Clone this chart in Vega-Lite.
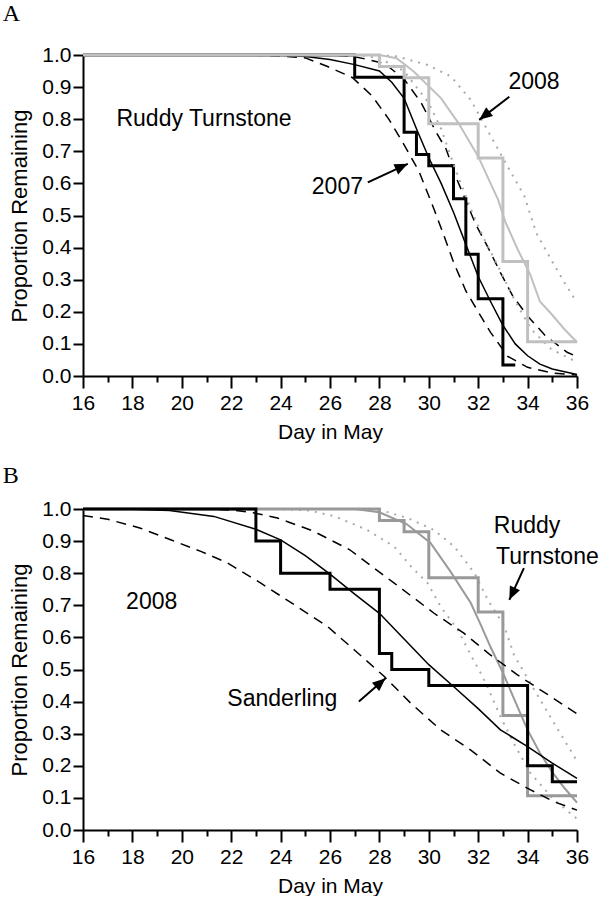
{
  "$schema": "https://vega.github.io/schema/vega-lite/v6.json",
  "padding": {"left": 2, "top": 2, "right": 5, "bottom": 0},
  "background": "white",
  "spacing": 22,
  "config": {
    "view": {"stroke": null},
    "font": "Liberation Sans",
    "axis": {"domainColor": "black", "domainWidth": 2, "tickColor": "black", "tickWidth": 2, "labelColor": "black", "titleColor": "black", "labelFontSize": 21, "titleFontSize": 22, "titleFontWeight": "normal", "grid": false, "labelFont": "Liberation Sans", "titleFont": "Liberation Sans"},
    "title": {"font": "Liberation Serif", "fontSize": 24, "fontWeight": "normal", "anchor": "start", "frame": "bounds", "color": "black", "offset": 18, "dx": -6}
  },
  "datasets": {
    "curves": [
      {"s": "A07step", "x": 16, "y": 1.0}, {"s": "A07step", "x": 27, "y": 0.931}, {"s": "A07step", "x": 29, "y": 0.759}, {"s": "A07step", "x": 29.5, "y": 0.69}, {"s": "A07step", "x": 30, "y": 0.655}, {"s": "A07step", "x": 31, "y": 0.552}, {"s": "A07step", "x": 31.5, "y": 0.379}, {"s": "A07step", "x": 32, "y": 0.241}, {"s": "A07step", "x": 33, "y": 0.034}, {"s": "A07step", "x": 33.5, "y": 0.034},
      {"s": "A07fit", "x": 16, "y": 1.0}, {"s": "A07fit", "x": 22, "y": 1.0}, {"s": "A07fit", "x": 24, "y": 0.999}, {"s": "A07fit", "x": 25, "y": 0.995}, {"s": "A07fit", "x": 26, "y": 0.986}, {"s": "A07fit", "x": 27, "y": 0.97}, {"s": "A07fit", "x": 28, "y": 0.95}, {"s": "A07fit", "x": 28.5, "y": 0.915}, {"s": "A07fit", "x": 29, "y": 0.865}, {"s": "A07fit", "x": 29.5, "y": 0.77}, {"s": "A07fit", "x": 30, "y": 0.68}, {"s": "A07fit", "x": 30.5, "y": 0.6}, {"s": "A07fit", "x": 31, "y": 0.51}, {"s": "A07fit", "x": 31.5, "y": 0.41}, {"s": "A07fit", "x": 32, "y": 0.31}, {"s": "A07fit", "x": 32.5, "y": 0.232}, {"s": "A07fit", "x": 33, "y": 0.158}, {"s": "A07fit", "x": 33.5, "y": 0.1}, {"s": "A07fit", "x": 34, "y": 0.063}, {"s": "A07fit", "x": 34.5, "y": 0.037}, {"s": "A07fit", "x": 35, "y": 0.022}, {"s": "A07fit", "x": 36, "y": 0.005},
      {"s": "A07lo", "x": 16, "y": 1.0}, {"s": "A07lo", "x": 23, "y": 0.999}, {"s": "A07lo", "x": 24, "y": 0.997}, {"s": "A07lo", "x": 25, "y": 0.991}, {"s": "A07lo", "x": 25.9, "y": 0.964}, {"s": "A07lo", "x": 26.9, "y": 0.93}, {"s": "A07lo", "x": 27.7, "y": 0.873}, {"s": "A07lo", "x": 28.4, "y": 0.798}, {"s": "A07lo", "x": 29, "y": 0.72}, {"s": "A07lo", "x": 29.6, "y": 0.638}, {"s": "A07lo", "x": 30.2, "y": 0.522}, {"s": "A07lo", "x": 30.6, "y": 0.44}, {"s": "A07lo", "x": 31, "y": 0.355}, {"s": "A07lo", "x": 31.5, "y": 0.265}, {"s": "A07lo", "x": 32, "y": 0.2}, {"s": "A07lo", "x": 32.5, "y": 0.136}, {"s": "A07lo", "x": 33.2, "y": 0.061}, {"s": "A07lo", "x": 34, "y": 0.027}, {"s": "A07lo", "x": 35, "y": 0.009}, {"s": "A07lo", "x": 36, "y": 0.003},
      {"s": "A07hi", "x": 16, "y": 1.0}, {"s": "A07hi", "x": 26, "y": 1.0}, {"s": "A07hi", "x": 27, "y": 0.995}, {"s": "A07hi", "x": 28.2, "y": 0.974}, {"s": "A07hi", "x": 29, "y": 0.925}, {"s": "A07hi", "x": 29.7, "y": 0.85}, {"s": "A07hi", "x": 30.3, "y": 0.759}, {"s": "A07hi", "x": 30.7, "y": 0.707}, {"s": "A07hi", "x": 31.1, "y": 0.62}, {"s": "A07hi", "x": 31.9, "y": 0.472}, {"s": "A07hi", "x": 32.4, "y": 0.4}, {"s": "A07hi", "x": 32.9, "y": 0.322}, {"s": "A07hi", "x": 33.4, "y": 0.249}, {"s": "A07hi", "x": 34, "y": 0.187}, {"s": "A07hi", "x": 34.7, "y": 0.127}, {"s": "A07hi", "x": 35.6, "y": 0.074}, {"s": "A07hi", "x": 36, "y": 0.06},
      {"s": "A08step", "x": 16, "y": 1.0}, {"s": "A08step", "x": 28, "y": 0.964}, {"s": "A08step", "x": 29, "y": 0.929}, {"s": "A08step", "x": 30, "y": 0.786}, {"s": "A08step", "x": 32, "y": 0.679}, {"s": "A08step", "x": 33, "y": 0.357}, {"s": "A08step", "x": 34, "y": 0.107}, {"s": "A08step", "x": 36, "y": 0.107},
      {"s": "A08fit", "x": 16, "y": 1.0}, {"s": "A08fit", "x": 28, "y": 1.0}, {"s": "A08fit", "x": 28.7, "y": 0.99}, {"s": "A08fit", "x": 29.4, "y": 0.948}, {"s": "A08fit", "x": 30.5, "y": 0.865}, {"s": "A08fit", "x": 31.2, "y": 0.788}, {"s": "A08fit", "x": 32, "y": 0.684}, {"s": "A08fit", "x": 32.5, "y": 0.6}, {"s": "A08fit", "x": 32.8, "y": 0.55}, {"s": "A08fit", "x": 33.1, "y": 0.48}, {"s": "A08fit", "x": 33.6, "y": 0.394}, {"s": "A08fit", "x": 34.1, "y": 0.317}, {"s": "A08fit", "x": 34.5, "y": 0.232}, {"s": "A08fit", "x": 35, "y": 0.19}, {"s": "A08fit", "x": 35.5, "y": 0.145}, {"s": "A08fit", "x": 36, "y": 0.105},
      {"s": "A08lo", "x": 16, "y": 1.0}, {"s": "A08lo", "x": 27, "y": 1.0}, {"s": "A08lo", "x": 28, "y": 0.99}, {"s": "A08lo", "x": 29, "y": 0.95}, {"s": "A08lo", "x": 30, "y": 0.85}, {"s": "A08lo", "x": 30.5, "y": 0.77}, {"s": "A08lo", "x": 31, "y": 0.66}, {"s": "A08lo", "x": 31.7, "y": 0.52}, {"s": "A08lo", "x": 32.25, "y": 0.425}, {"s": "A08lo", "x": 32.8, "y": 0.343}, {"s": "A08lo", "x": 33.46, "y": 0.239}, {"s": "A08lo", "x": 34.14, "y": 0.146}, {"s": "A08lo", "x": 34.95, "y": 0.084}, {"s": "A08lo", "x": 36, "y": 0.043},
      {"s": "A08hi", "x": 16, "y": 1.0}, {"s": "A08hi", "x": 28, "y": 1.0}, {"s": "A08hi", "x": 28.74, "y": 0.995}, {"s": "A08hi", "x": 29.95, "y": 0.969}, {"s": "A08hi", "x": 30.9, "y": 0.933}, {"s": "A08hi", "x": 31.7, "y": 0.86}, {"s": "A08hi", "x": 32.52, "y": 0.746}, {"s": "A08hi", "x": 33.19, "y": 0.653}, {"s": "A08hi", "x": 33.87, "y": 0.56}, {"s": "A08hi", "x": 34.35, "y": 0.446}, {"s": "A08hi", "x": 34.95, "y": 0.363}, {"s": "A08hi", "x": 35.49, "y": 0.291}, {"s": "A08hi", "x": 36, "y": 0.229},
      {"s": "Bsstep", "x": 16, "y": 1.0}, {"s": "Bsstep", "x": 23, "y": 0.9}, {"s": "Bsstep", "x": 24, "y": 0.8}, {"s": "Bsstep", "x": 26, "y": 0.75}, {"s": "Bsstep", "x": 28, "y": 0.55}, {"s": "Bsstep", "x": 28.5, "y": 0.5}, {"s": "Bsstep", "x": 30, "y": 0.45}, {"s": "Bsstep", "x": 34, "y": 0.2}, {"s": "Bsstep", "x": 35, "y": 0.15}, {"s": "Bsstep", "x": 36, "y": 0.15},
      {"s": "Bsfit", "x": 16, "y": 1.0}, {"s": "Bsfit", "x": 18, "y": 0.999}, {"s": "Bsfit", "x": 19.5, "y": 0.995}, {"s": "Bsfit", "x": 21.3, "y": 0.977}, {"s": "Bsfit", "x": 23, "y": 0.937}, {"s": "Bsfit", "x": 24, "y": 0.904}, {"s": "Bsfit", "x": 25, "y": 0.855}, {"s": "Bsfit", "x": 26, "y": 0.797}, {"s": "Bsfit", "x": 27, "y": 0.735}, {"s": "Bsfit", "x": 28, "y": 0.675}, {"s": "Bsfit", "x": 29, "y": 0.595}, {"s": "Bsfit", "x": 30, "y": 0.515}, {"s": "Bsfit", "x": 31, "y": 0.447}, {"s": "Bsfit", "x": 32, "y": 0.378}, {"s": "Bsfit", "x": 32.9, "y": 0.312}, {"s": "Bsfit", "x": 34, "y": 0.26}, {"s": "Bsfit", "x": 35, "y": 0.208}, {"s": "Bsfit", "x": 36, "y": 0.161},
      {"s": "Bslo", "x": 16, "y": 0.98}, {"s": "Bslo", "x": 17, "y": 0.968}, {"s": "Bslo", "x": 18.3, "y": 0.941}, {"s": "Bslo", "x": 19.55, "y": 0.904}, {"s": "Bslo", "x": 20.77, "y": 0.868}, {"s": "Bslo", "x": 21.85, "y": 0.832}, {"s": "Bslo", "x": 23.2, "y": 0.769}, {"s": "Bslo", "x": 24.55, "y": 0.702}, {"s": "Bslo", "x": 25.9, "y": 0.634}, {"s": "Bslo", "x": 27, "y": 0.56}, {"s": "Bslo", "x": 28.2, "y": 0.478}, {"s": "Bslo", "x": 29.27, "y": 0.395}, {"s": "Bslo", "x": 30.48, "y": 0.312}, {"s": "Bslo", "x": 31.7, "y": 0.249}, {"s": "Bslo", "x": 32.9, "y": 0.177}, {"s": "Bslo", "x": 34.12, "y": 0.125}, {"s": "Bslo", "x": 35.07, "y": 0.088}, {"s": "Bslo", "x": 36, "y": 0.062},
      {"s": "Bshi", "x": 16, "y": 1.0}, {"s": "Bshi", "x": 21, "y": 1.0}, {"s": "Bshi", "x": 22, "y": 0.997}, {"s": "Bshi", "x": 22.9, "y": 0.988}, {"s": "Bshi", "x": 23.87, "y": 0.972}, {"s": "Bshi", "x": 25.3, "y": 0.932}, {"s": "Bshi", "x": 26.8, "y": 0.873}, {"s": "Bshi", "x": 28.6, "y": 0.769}, {"s": "Bshi", "x": 30.2, "y": 0.676}, {"s": "Bshi", "x": 31.42, "y": 0.613}, {"s": "Bshi", "x": 32.45, "y": 0.548}, {"s": "Bshi", "x": 33.59, "y": 0.483}, {"s": "Bshi", "x": 34.93, "y": 0.416}, {"s": "Bshi", "x": 36, "y": 0.362},
      {"s": "Brstep", "x": 16, "y": 1.0}, {"s": "Brstep", "x": 28, "y": 0.964}, {"s": "Brstep", "x": 29, "y": 0.929}, {"s": "Brstep", "x": 30, "y": 0.786}, {"s": "Brstep", "x": 32, "y": 0.679}, {"s": "Brstep", "x": 33, "y": 0.357}, {"s": "Brstep", "x": 34, "y": 0.107}, {"s": "Brstep", "x": 36, "y": 0.107},
      {"s": "Brfit", "x": 16, "y": 1.0}, {"s": "Brfit", "x": 27, "y": 1.0}, {"s": "Brfit", "x": 28, "y": 0.99}, {"s": "Brfit", "x": 29.1, "y": 0.953}, {"s": "Brfit", "x": 30.07, "y": 0.894}, {"s": "Brfit", "x": 30.88, "y": 0.805}, {"s": "Brfit", "x": 31.7, "y": 0.707}, {"s": "Brfit", "x": 32.1, "y": 0.64}, {"s": "Brfit", "x": 32.5, "y": 0.57}, {"s": "Brfit", "x": 33, "y": 0.49}, {"s": "Brfit", "x": 33.5, "y": 0.4}, {"s": "Brfit", "x": 34, "y": 0.312}, {"s": "Brfit", "x": 34.5, "y": 0.24}, {"s": "Brfit", "x": 35, "y": 0.18}, {"s": "Brfit", "x": 35.5, "y": 0.13}, {"s": "Brfit", "x": 36, "y": 0.085},
      {"s": "Brlo", "x": 16, "y": 1.0}, {"s": "Brlo", "x": 24, "y": 1.0}, {"s": "Brlo", "x": 25.2, "y": 0.995}, {"s": "Brlo", "x": 26.2, "y": 0.977}, {"s": "Brlo", "x": 27.5, "y": 0.935}, {"s": "Brlo", "x": 28.6, "y": 0.883}, {"s": "Brlo", "x": 29.28, "y": 0.821}, {"s": "Brlo", "x": 29.95, "y": 0.769}, {"s": "Brlo", "x": 30.48, "y": 0.696}, {"s": "Brlo", "x": 31.17, "y": 0.624}, {"s": "Brlo", "x": 31.7, "y": 0.545}, {"s": "Brlo", "x": 32.1, "y": 0.489}, {"s": "Brlo", "x": 32.37, "y": 0.447}, {"s": "Brlo", "x": 32.9, "y": 0.353}, {"s": "Brlo", "x": 33.44, "y": 0.27}, {"s": "Brlo", "x": 34.12, "y": 0.177}, {"s": "Brlo", "x": 35.07, "y": 0.094}, {"s": "Brlo", "x": 36, "y": 0.035},
      {"s": "Brhi", "x": 16, "y": 1.0}, {"s": "Brhi", "x": 27.9, "y": 1.0}, {"s": "Brhi", "x": 29.14, "y": 0.972}, {"s": "Brhi", "x": 30.2, "y": 0.935}, {"s": "Brhi", "x": 31.03, "y": 0.883}, {"s": "Brhi", "x": 31.85, "y": 0.8}, {"s": "Brhi", "x": 32.39, "y": 0.717}, {"s": "Brhi", "x": 33.06, "y": 0.634}, {"s": "Brhi", "x": 33.45, "y": 0.545}, {"s": "Brhi", "x": 34.27, "y": 0.437}, {"s": "Brhi", "x": 35.07, "y": 0.333}, {"s": "Brhi", "x": 36, "y": 0.215}
    ],
    "notes": [
      {"p": "A", "label": "Ruddy Turnstone", "x": 20.9, "y": 0.8},
      {"p": "A", "label": "2007", "x": 26.3, "y": 0.59},
      {"p": "A", "label": "2008", "x": 34.26, "y": 0.916},
      {"p": "B", "label": "2008", "x": 18.78, "y": 0.71},
      {"p": "B", "label": "Sanderling", "x": 24.07, "y": 0.408},
      {"p": "B", "label": "Ruddy", "x": 33.98, "y": 0.948},
      {"p": "B", "label": "Turnstone", "x": 34.8, "y": 0.851}
    ],
    "arrows": [
      {"id": "a07", "x": 27.53, "y": 0.603, "x2": 29.15, "y2": 0.661},
      {"id": "a08", "x": 33.26, "y": 0.87, "x2": 32.04, "y2": 0.798},
      {"id": "brt", "x": 33.85, "y": 0.816, "x2": 33.26, "y2": 0.717},
      {"id": "bsa", "x": 27.17, "y": 0.4, "x2": 28.25, "y2": 0.473}
    ]
  },
  "vconcat": [
    {
      "title": {"text": "A"},
      "width": 494,
      "height": 321,
      "encoding": {
        "x": {"field": "x", "type": "quantitative", "scale": {"domain": [16, 36], "nice": false, "zero": false},
              "axis": {"values": [16,17,18,19,20,21,22,23,24,25,26,27,28,29,30,31,32,33,34,35,36], "tickSize": {"condition": {"test": "datum.value % 2 == 0", "value": 12}, "value": 6}, "labelExpr": "datum.value % 2 == 0 ? datum.label : ''", "labelOverlap": false, "labelFlush": false, "labelPadding": 4, "title": "Day in May", "titleFontSize": 21, "titlePadding": 8}},
        "y": {"field": "y", "type": "quantitative", "scale": {"domain": [0, 1], "nice": false},
              "axis": {"values": [0,0.1,0.2,0.3,0.4,0.5,0.6,0.7,0.8,0.9,1.0], "format": ".1f", "tickSize": 10, "labelPadding": 2, "labelFlush": false, "labelOverlap": false, "title": "Proportion Remaining", "titlePadding": 10}}
      },
      "layer": [
        {"data": {"name": "curves"}, "transform": [{"filter": "datum.s === 'A07lo' || datum.s === 'A07hi'"}], "mark": {"type": "line", "color": "black", "strokeWidth": 1.5, "strokeDash": [10, 7]}, "encoding": {"detail": {"field": "s"}}},
        {"data": {"name": "curves"}, "transform": [{"filter": "datum.s === 'A07fit'"}], "mark": {"type": "line", "color": "black", "strokeWidth": 1.5}},
        {"data": {"name": "curves"}, "transform": [{"filter": "datum.s === 'A07step'"}], "mark": {"type": "line", "color": "black", "strokeWidth": 3, "interpolate": "step-after"}},
        {"data": {"name": "curves"}, "transform": [{"filter": "datum.s === 'A08lo' || datum.s === 'A08hi'"}], "mark": {"type": "line", "color": "#aaaaaa", "strokeWidth": 2, "strokeDash": [2, 6]}, "encoding": {"detail": {"field": "s"}}},
        {"data": {"name": "curves"}, "transform": [{"filter": "datum.s === 'A08fit'"}], "mark": {"type": "line", "color": "#c0c0c0", "strokeWidth": 2}},
        {"data": {"name": "curves"}, "transform": [{"filter": "datum.s === 'A08step'"}], "mark": {"type": "line", "color": "#c0c0c0", "strokeWidth": 3, "interpolate": "step-after"}},
        {"data": {"name": "notes"}, "transform": [{"filter": "datum.p === 'A'"}], "mark": {"type": "text", "fontSize": 23, "color": "black", "baseline": "middle", "align": "center"}, "encoding": {"text": {"field": "label"}}},
        {"data": {"name": "arrows"}, "transform": [{"filter": "datum.id === 'a07' || datum.id === 'a08'"}], "mark": {"type": "rule", "color": "black", "strokeWidth": 2}, "encoding": {"x2": {"field": "x2"}, "y2": {"field": "y2"}}},
        {"data": {"name": "arrows"}, "transform": [{"filter": "datum.id === 'a07'"}], "mark": {"type": "point", "shape": "M0,0L0.42,1L-0.42,1Z", "filled": true, "color": "black", "opacity": 1, "size": 700, "angle": 65}, "encoding": {"x": {"field": "x2", "type": "quantitative"}, "y": {"field": "y2", "type": "quantitative"}}},
        {"data": {"name": "arrows"}, "transform": [{"filter": "datum.id === 'a08'"}], "mark": {"type": "point", "shape": "M0,0L0.42,1L-0.42,1Z", "filled": true, "color": "black", "opacity": 1, "size": 700, "angle": 232}, "encoding": {"x": {"field": "x2", "type": "quantitative"}, "y": {"field": "y2", "type": "quantitative"}}}
      ]
    },
    {
      "title": {"text": "B", "offset": 10},
      "width": 494,
      "height": 321,
      "encoding": {
        "x": {"field": "x", "type": "quantitative", "scale": {"domain": [16, 36], "nice": false, "zero": false},
              "axis": {"values": [16,17,18,19,20,21,22,23,24,25,26,27,28,29,30,31,32,33,34,35,36], "tickSize": {"condition": {"test": "datum.value % 2 == 0", "value": 12}, "value": 6}, "labelExpr": "datum.value % 2 == 0 ? datum.label : ''", "labelOverlap": false, "labelFlush": false, "labelPadding": 4, "title": "Day in May", "titleFontSize": 21, "titlePadding": 8}},
        "y": {"field": "y", "type": "quantitative", "scale": {"domain": [0, 1], "nice": false},
              "axis": {"values": [0,0.1,0.2,0.3,0.4,0.5,0.6,0.7,0.8,0.9,1.0], "format": ".1f", "tickSize": 10, "labelPadding": 2, "labelFlush": false, "labelOverlap": false, "title": "Proportion Remaining", "titlePadding": 10}}
      },
      "layer": [
        {"data": {"name": "curves"}, "transform": [{"filter": "datum.s === 'Brlo' || datum.s === 'Brhi'"}], "mark": {"type": "line", "color": "#aaaaaa", "strokeWidth": 2, "strokeDash": [2, 6]}, "encoding": {"detail": {"field": "s"}}},
        {"data": {"name": "curves"}, "transform": [{"filter": "datum.s === 'Brfit'"}], "mark": {"type": "line", "color": "#999999", "strokeWidth": 2}},
        {"data": {"name": "curves"}, "transform": [{"filter": "datum.s === 'Brstep'"}], "mark": {"type": "line", "color": "#999999", "strokeWidth": 3, "interpolate": "step-after"}},
        {"data": {"name": "curves"}, "transform": [{"filter": "datum.s === 'Bslo' || datum.s === 'Bshi'"}], "mark": {"type": "line", "color": "black", "strokeWidth": 1.5, "strokeDash": [10, 7]}, "encoding": {"detail": {"field": "s"}}},
        {"data": {"name": "curves"}, "transform": [{"filter": "datum.s === 'Bsfit'"}], "mark": {"type": "line", "color": "black", "strokeWidth": 1.5}},
        {"data": {"name": "curves"}, "transform": [{"filter": "datum.s === 'Bsstep'"}], "mark": {"type": "line", "color": "black", "strokeWidth": 3, "interpolate": "step-after"}},
        {"data": {"name": "notes"}, "transform": [{"filter": "datum.p === 'B'"}], "mark": {"type": "text", "fontSize": 23, "color": "black", "baseline": "middle", "align": "center"}, "encoding": {"text": {"field": "label"}}},
        {"data": {"name": "arrows"}, "transform": [{"filter": "datum.id === 'brt' || datum.id === 'bsa'"}], "mark": {"type": "rule", "color": "black", "strokeWidth": 2}, "encoding": {"x2": {"field": "x2"}, "y2": {"field": "y2"}}},
        {"data": {"name": "arrows"}, "transform": [{"filter": "datum.id === 'brt'"}], "mark": {"type": "point", "shape": "M0,0L0.42,1L-0.42,1Z", "filled": true, "color": "black", "opacity": 1, "size": 700, "angle": 205}, "encoding": {"x": {"field": "x2", "type": "quantitative"}, "y": {"field": "y2", "type": "quantitative"}}},
        {"data": {"name": "arrows"}, "transform": [{"filter": "datum.id === 'bsa'"}], "mark": {"type": "point", "shape": "M0,0L0.42,1L-0.42,1Z", "filled": true, "color": "black", "opacity": 1, "size": 700, "angle": 49}, "encoding": {"x": {"field": "x2", "type": "quantitative"}, "y": {"field": "y2", "type": "quantitative"}}}
      ]
    }
  ]
}
